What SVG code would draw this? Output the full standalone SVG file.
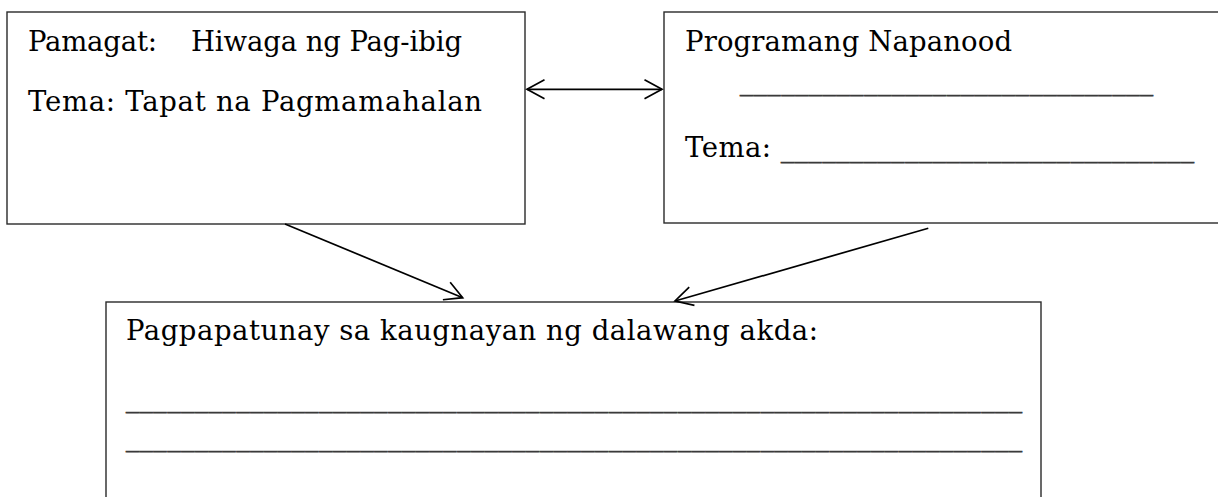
<svg xmlns="http://www.w3.org/2000/svg" width="1218" height="497" viewBox="0 0 1218 497">
<style>
.box{fill:#fff;stroke:#2a2a2a;stroke-width:1.4}
.t{font-family:"DejaVu Serif","Liberation Serif",serif;font-size:27.5px;fill:#000}
.u{font-family:"DejaVu Serif","Liberation Serif",serif;font-size:26px;fill:#3a3a3a;stroke:#3a3a3a;stroke-width:0.9}
.c{fill:none;stroke:#000;stroke-width:1.7}
</style>
<defs>
<marker id="ah" viewBox="-20 -12 24 24" refX="0" refY="0" markerWidth="24" markerHeight="24" markerUnits="userSpaceOnUse" orient="auto-start-reverse">
<path d="M-17.5,-9.5 L0,0 L-17.5,9.5" fill="none" stroke="#000" stroke-width="1.7"/>
</marker>
</defs>
<rect width="1218" height="497" fill="#fff"/>
<g id="node-pamagat">
<rect class="box" x="7" y="12" width="518" height="212"/>
<text class="t" y="51"><tspan x="28" textLength="129" lengthAdjust="spacing">Pamagat:</tspan><tspan x="191" textLength="271" lengthAdjust="spacing">Hiwaga ng Pag-ibig</tspan></text>
<text class="t" x="28" y="111" textLength="454" lengthAdjust="spacing">Tema: Tapat na Pagmamahalan</text>
</g>
<g id="node-programa">
<rect class="box" x="664" y="12" width="600" height="211"/>
<text class="t" x="685" y="51" textLength="327" lengthAdjust="spacing">Programang Napanood</text>
<text class="u" x="740" y="90" textLength="413" lengthAdjust="spacing">______________________________</text>
<text class="t" x="685" y="157" textLength="86" lengthAdjust="spacing">Tema:</text>
<text class="u" x="781" y="156.5" textLength="413" lengthAdjust="spacing">______________________________</text>
</g>
<g id="node-pagpapatunay">
<rect class="box" x="106" y="302" width="935" height="260"/>
<text class="t" x="126" y="340" textLength="692" lengthAdjust="spacing">Pagpapatunay sa kaugnayan ng dalawang akda:</text>
<text class="u" x="126" y="406.5" textLength="896" lengthAdjust="spacing">_________________________________________________________________</text>
<text class="u" x="126" y="445.5" textLength="896" lengthAdjust="spacing">_________________________________________________________________</text>
</g>
<g id="connectors">
<line class="c" x1="527" y1="89.3" x2="662" y2="89.3" marker-start="url(#ah)" marker-end="url(#ah)"/>
<line class="c" x1="285" y1="224" x2="462.7" y2="297.7" marker-end="url(#ah)"/>
<line class="c" x1="928.3" y1="228.3" x2="675" y2="301" marker-end="url(#ah)"/>
</g>
</svg>
